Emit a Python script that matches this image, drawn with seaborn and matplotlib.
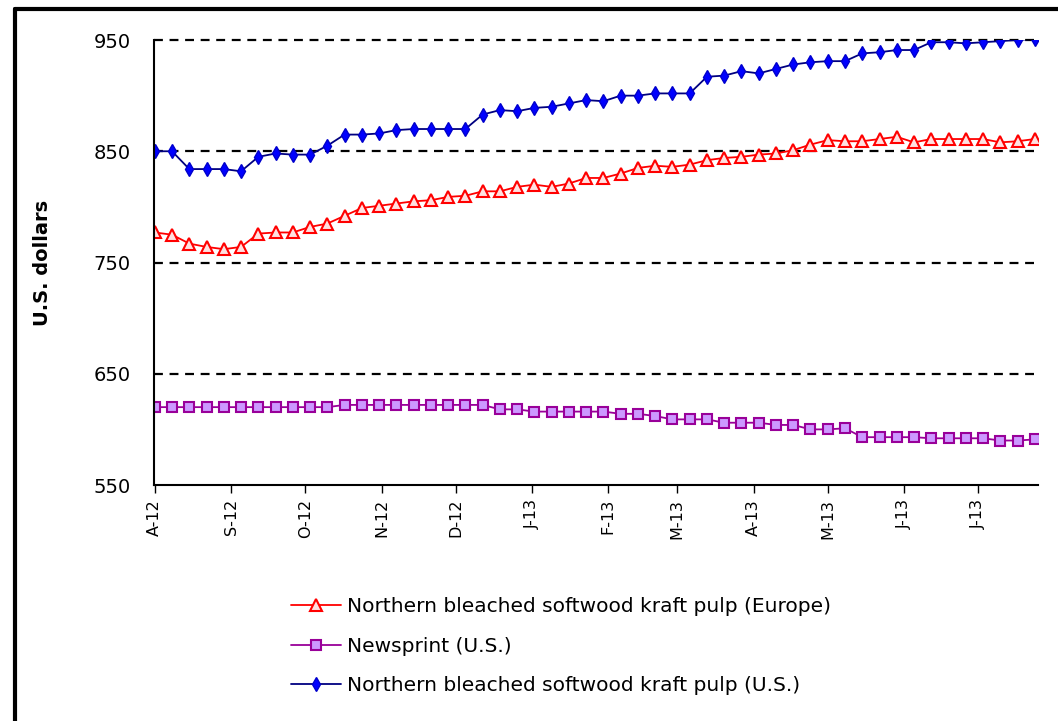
import pandas as pd
import matplotlib.pyplot as plt
from matplotlib.lines import Line2D
import seaborn as sns

# weekly prices, Aug 2012 - Jul 2013
weeks = pd.date_range('2012-08-01', periods=52, freq='7D')

nbsk_europe = [777, 775, 767, 764, 762, 764, 776, 777, 777, 782, 785, 792, 799, 801, 803, 805, 806, 809,
               810, 814, 814, 818, 820, 818, 821, 826, 826, 830, 835, 837, 836, 838, 842, 844, 845,
               847, 848, 851, 856, 860, 859, 859, 861, 863, 858, 861, 861, 861, 861, 858, 859, 861]
newsprint_us = [620] * 11 + [622] * 9 + [618, 618] + [616] * 5 + [614, 614, 612, 609, 609, 609,
                606, 606, 606, 604, 604, 600, 600, 601] + [593] * 4 + [592] * 4 + [590, 590, 591]
nbsk_us = [850, 850, 834, 834, 834, 832, 845, 848, 847, 847, 855, 865, 865, 866, 869, 870, 870, 870,
           870, 883, 887, 886, 889, 890, 893, 896, 895, 900, 900, 902, 902, 902, 917, 918, 922,
           920, 924, 928, 930, 931, 931, 938, 939, 941, 941, 948, 948, 947, 948, 949, 950, 951]

month_ticks = pd.date_range('2012-08-01', '2013-07-01', freq='MS')
month_labels = ['A-12', 'S-12', 'O-12', 'N-12', 'D-12', 'J-13', 'F-13', 'M-13', 'A-13', 'M-13', 'J-13', 'J-13']

sns.set_style('white')
plt.rcParams['font.family'] = ['DejaVu Sans']
plt.rcParams['text.color'] = 'black'
plt.rcParams['axes.labelcolor'] = 'black'
plt.rcParams['xtick.color'] = 'black'
plt.rcParams['ytick.color'] = 'black'

fig = plt.figure(figsize=(10.58, 7.21), dpi=100)
ax = fig.add_axes([0.1456, 0.3273, 0.8355, 0.6172])

sns.lineplot(ax=ax, x=weeks, y=nbsk_europe, color='#ff0000', lw=1.3, marker='^', ms=8,
             mfc='#ffe0e0', mec='#ff0000', mew=1.5, label='Northern bleached softwood kraft pulp (Europe)')
sns.lineplot(ax=ax, x=weeks, y=newsprint_us, color='#990099', lw=1.3, marker='s', ms=7,
             mfc='#cc99ff', mec='#990099', mew=1.5, label='Newsprint (U.S.)')
sns.lineplot(ax=ax, x=weeks, y=nbsk_us, color='#000080', lw=1.3, marker='d', ms=7.5,
             mfc='#0000ff', mec='#0000cc', mew=1, label='Northern bleached softwood kraft pulp (U.S.)')

ax.set_ylim(550, 950)
ax.set_xlim(weeks[0] - pd.Timedelta(days=0.3), weeks[-1] + pd.Timedelta(days=1.3))
ax.set_yticks([550, 650, 750, 850, 950])
for v in [650, 750, 850, 950]:
    ax.axhline(v, color='black', lw=1.6, ls=(0, (4, 3)), zorder=0.5, clip_on=False)

ax.set_xticks(month_ticks)
ax.set_xticklabels(month_labels, rotation=90, fontsize=11.5)
ax.tick_params(axis='y', labelsize=14, direction='inout', length=10, width=1, pad=12)
ax.tick_params(axis='x', direction='out', length=6, width=1, bottom=True, pad=4)

for s in ['top', 'right']:
    ax.spines[s].set_visible(False)
for s in ['left', 'bottom']:
    ax.spines[s].set_color('black')
    ax.spines[s].set_linewidth(1.5)

ax.set_ylabel('U.S. dollars', fontsize=14, fontweight='bold', labelpad=30)
ax.set_xlabel('')

ax.get_legend().remove()
handles, labels = ax.get_legend_handles_labels()
fig.legend(handles, labels, loc='upper left', bbox_to_anchor=(0.267, 0.183), frameon=False,
           fontsize=14.5, handlelength=2.5, handletextpad=0.3, labelspacing=1.02, borderaxespad=0)

# outer frame (left and top edges visible in the original crop)
fig.add_artist(Line2D([15 / 1058, 15 / 1058], [0, 1 - 9 / 721], color='black', lw=3,
                      transform=fig.transFigure))
fig.add_artist(Line2D([15 / 1058, 1], [1 - 9 / 721, 1 - 9 / 721], color='black', lw=3,
                      transform=fig.transFigure))

fig.savefig('out.png', dpi=100)
